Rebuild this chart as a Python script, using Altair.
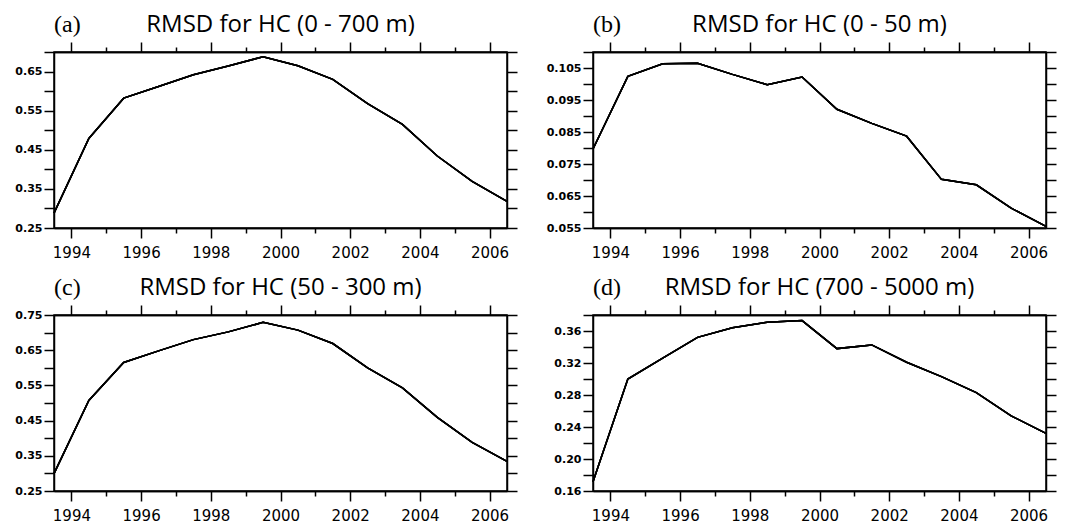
import json
import altair as alt
import pandas as pd

# ---- data ----
years = [1993.5, 1994.5, 1995.5, 1996.5, 1997.5, 1998.5, 1999.5,
         2000.5, 2001.5, 2002.5, 2003.5, 2004.5, 2005.5, 2006.5]

hc_0_700 = [0.288, 0.479, 0.582, 0.612, 0.642, 0.664, 0.688,
            0.665, 0.630, 0.568, 0.515, 0.434, 0.369, 0.318]
hc_0_50 = [0.0797, 0.1024, 0.1063, 0.1065, 0.1030, 0.0998, 0.1022,
           0.0921, 0.0877, 0.0837, 0.0702, 0.0685, 0.0612, 0.0555]
hc_50_300 = [0.2995, 0.507, 0.615, 0.648, 0.680, 0.702, 0.729,
             0.707, 0.669, 0.600, 0.543, 0.459, 0.388, 0.334]
hc_700_5000 = [0.1716, 0.300, 0.326, 0.352, 0.364, 0.371, 0.373,
               0.338, 0.3426, 0.321, 0.303, 0.283, 0.254, 0.232]

panel_letters = ["(a)", "(b)", "(c)", "(d)"]
panel_titles = ["RMSD for HC (0 - 700 m)", "RMSD for HC (0 - 50 m)",
                "RMSD for HC (50 - 300 m)", "RMSD for HC (700 - 5000 m)"]
series = [hc_0_700, hc_0_50, hc_50_300, hc_700_5000]

x_domain = [1993.5, 2006.5]
x_major = [1994, 1996, 1998, 2000, 2002, 2004, 2006]
x_minor = [1995, 1997, 1999, 2001, 2003, 2005]

y_domains = [[0.25, 0.70], [0.055, 0.110], [0.25, 0.75], [0.16, 0.38]]
y_ticks = [
    [0.25, 0.30, 0.35, 0.40, 0.45, 0.50, 0.55, 0.60, 0.65, 0.70],
    [0.055, 0.060, 0.065, 0.070, 0.075, 0.080, 0.085, 0.090, 0.095, 0.100, 0.105, 0.110],
    [0.25, 0.30, 0.35, 0.40, 0.45, 0.50, 0.55, 0.60, 0.65, 0.70, 0.75],
    [0.16, 0.18, 0.20, 0.22, 0.24, 0.26, 0.28, 0.30, 0.32, 0.34, 0.36, 0.38],
]
y_labels = [
    ["0.25", "0.35", "0.45", "0.55", "0.65"],
    ["0.055", "0.065", "0.075", "0.085", "0.095", "0.105"],
    ["0.25", "0.35", "0.45", "0.55", "0.65", "0.75"],
    ["0.16", "0.20", "0.24", "0.28", "0.32", "0.36"],
]
y_formats = [".2f", ".3f", ".2f", ".2f"]

PLOT_W, PLOT_H = 453, 176
LINE_W = 1.5


def panel(i):
    df = pd.DataFrame({"year": years, "rmsd": series[i]})
    xs = alt.Scale(domain=x_domain, nice=False, zero=False)
    ys = alt.Scale(domain=y_domains[i], nice=False, zero=False)
    y_lab = json.dumps(y_labels[i])
    common = dict(grid=False, domainColor="black", domainWidth=LINE_W,
                  tickColor="black", tickWidth=LINE_W, labelColor="black", title=None)

    x_bottom = alt.Axis(orient="bottom", values=x_major, format="d", tickSize=10,
                        labelFont="DejaVu Sans", labelFontSize=15, labelPadding=7,
                        labelFlush=False, labelOverlap=False, **common)
    x_bottom_minor = alt.Axis(orient="bottom", values=x_minor, labels=False, tickSize=5,
                              **common)
    x_top = alt.Axis(orient="top", values=x_major, labels=False, tickSize=10, **common)
    x_top_minor = alt.Axis(orient="top", values=x_minor, labels=False, tickSize=5,
                           **common)
    y_left = alt.Axis(orient="left", values=y_ticks[i], format=y_formats[i],
                      labelExpr=f"indexof({y_lab}, datum.label) >= 0 ? datum.label : ''",
                      tickSize=10, labelFont="DejaVu Sans", labelFontSize=11,
                      labelFontWeight="bold", labelPadding=2, labelFlush=False,
                      labelOverlap=False, **common)
    y_right = alt.Axis(orient="right", values=y_ticks[i], labels=False, tickSize=10,
                       **common)

    base = alt.Chart(df)

    def line(xaxis, yaxis):
        return base.mark_line(color="black", strokeWidth=LINE_W).encode(
            x=alt.X("year:Q", scale=xs, axis=xaxis),
            y=alt.Y("rmsd:Q", scale=ys, axis=yaxis),
        )

    l1 = line(x_bottom, y_left)
    l2 = line(x_top, y_right)
    l3 = line(x_bottom_minor, None)
    l4 = line(x_top_minor, None)

    texts = pd.DataFrame({"letter": [panel_letters[i]], "title": [panel_titles[i]]})
    letter = alt.Chart(texts).mark_text(
        font="Liberation Serif", fontSize=24, align="left", baseline="alphabetic", color="black"
    ).encode(text="letter:N", x=alt.value(0), y=alt.value(-20))
    title = alt.Chart(texts).mark_text(
        font="Open Sans", fontSize=24, align="center", baseline="alphabetic", color="black"
    ).encode(text="title:N", x=alt.value(PLOT_W / 2), y=alt.value(-20))

    return alt.layer(l1, l2, l3, l4, letter, title).resolve_axis(
        x="independent", y="independent"
    ).properties(width=PLOT_W, height=PLOT_H)


chart = alt.concat(
    panel(0), panel(1), panel(2), panel(3),
    columns=2, spacing={"row": 87, "column": 86}, bounds="flush",
).properties(
    padding={"left": 6, "top": 4, "right": 0, "bottom": 0},
    background="white",
).configure_view(stroke="black", strokeWidth=LINE_W)

chart.save("out.html", embed_options={"renderer": "svg", "actions": False})
